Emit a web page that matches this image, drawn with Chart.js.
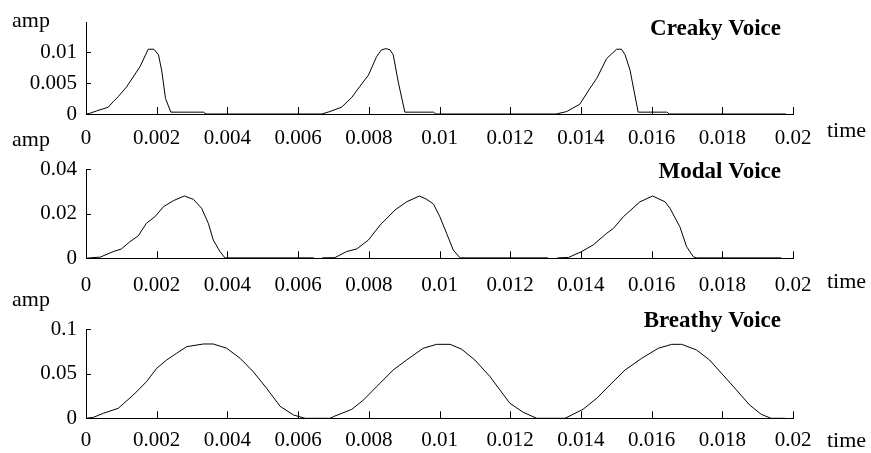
<!DOCTYPE html>
<html><head><meta charset="utf-8">
<script src="https://cdn.jsdelivr.net/npm/chart.js@4"></script>
<style>
html,body{margin:0;padding:0;background:#fff;width:871px;height:453px;overflow:hidden;}
canvas{position:absolute;left:0;display:block;}
</style></head><body>
<canvas id="c1" width="871" height="152" style="top:0px;width:871px;height:152px"></canvas>
<canvas id="c2" width="871" height="170" style="top:128px;width:871px;height:170px"></canvas>
<canvas id="c3" width="871" height="165" style="top:288px;width:871px;height:165px"></canvas>
<script>
// ---- data ----
const xTickValues = [0,0.002,0.004,0.006,0.008,0.01,0.012,0.014,0.016,0.018,0.02];
const xTickLabels = ['0','0.002','0.004','0.006','0.008','0.01','0.012','0.014','0.016','0.018','0.02'];

const creakyTicks = [0,0.005,0.01];
const creakyTickLabels = ['0','0.005','0.01'];
const modalTicks = [0,0.02,0.04];
const modalTickLabels = ['0','0.02','0.04'];
const breathyTicks = [0,0.05,0.1];
const breathyTickLabels = ['0','0.05','0.1'];

const creakyTime = [0,0.0001,0.0003,0.00063,0.00077,0.00091,0.00115,0.00153,0.00176,0.00192,0.00205,0.00214,0.00225,0.0024,0.00332,0.0034,
  0.00667,0.0069,0.00723,0.00752,0.00775,0.00799,0.00822,0.00836,0.00849,0.0086,0.00869,0.00884,0.00902,0.00983,0.0099,
  0.0133,0.0136,0.01397,0.01426,0.01445,0.01473,0.01501,0.01515,0.01525,0.01539,0.01562,0.01643,0.0165,0.0198];
const creakyAmp = [0,0.0001,0.0005,0.0011,0.002,0.0028,0.0044,0.0077,0.0105,0.0105,0.0096,0.0071,0.0025,0.0003,0.0003,0,
  0,0.0004,0.0011,0.0027,0.0045,0.0063,0.0093,0.0104,0.0106,0.0104,0.0096,0.005,0.0003,0.0003,0,
  0,0.0004,0.0016,0.0042,0.0058,0.009,0.0105,0.0105,0.0096,0.0071,0.0003,0.0003,0,0];

const modalTime = [0,0.00016,0.0004,0.00077,0.001,0.00124,0.00148,0.00171,0.00195,0.00219,0.00247,0.00278,0.00304,0.00327,0.00346,0.0036,0.00379,0.00393,
  0.00643,0.00655,0.0067,0.00704,0.00737,0.00766,0.00799,0.00832,0.00874,0.00907,0.00943,0.00964,0.00983,0.01001,0.0102,0.01039,0.01058,
  0.01305,0.01317,0.01336,0.01365,0.01402,0.01435,0.01473,0.01492,0.0152,0.01567,0.01603,0.01638,0.01652,0.0168,0.01699,0.01718,0.01727,
  0.01965,0.01977];
const modalAmp = [0,0.0003,0.0005,0.003,0.0042,0.0074,0.0101,0.0157,0.0186,0.0231,0.0258,0.0279,0.0264,0.0224,0.0157,0.0082,0.003,0.0002,
  0.0002,-0.0008,0.0002,0.0003,0.003,0.0042,0.0082,0.0149,0.0216,0.0253,0.0279,0.0264,0.0243,0.0186,0.0112,0.0037,0.0002,
  0.0002,-0.0008,0.0002,0.0004,0.003,0.006,0.0112,0.0134,0.0186,0.0253,0.0279,0.0253,0.0224,0.0141,0.0052,0.0007,0.0002,
  0.0002,-0.0008];

const breathyTime = [0,0.00021,0.00049,0.00091,0.00134,0.00171,0.002,0.00228,0.00256,0.00285,0.00332,0.0036,0.00398,0.00436,0.00473,0.00511,0.00549,0.00587,0.0062,
  0.0069,0.007,0.00752,0.00785,0.00822,0.00869,0.00907,0.00954,0.00992,0.0103,0.01063,0.011,0.01143,0.01171,0.01199,0.01237,0.01275,
  0.01355,0.01378,0.01406,0.01445,0.01482,0.01525,0.01572,0.01619,0.01657,0.01685,0.01727,0.01764,0.01802,0.0184,0.01877,0.0191,0.01938,0.01977];
const breathyAmp = [0,0.0011,0.0056,0.0112,0.0262,0.0411,0.0562,0.0655,0.073,0.0805,0.0835,0.0835,0.0787,0.0674,0.0524,0.0337,0.0135,0.0037,0,
  0,0.0019,0.0101,0.0206,0.0355,0.0543,0.0655,0.0787,0.0831,0.0831,0.0775,0.0655,0.0468,0.0318,0.0169,0.0067,0,
  0,0.0045,0.0101,0.0225,0.0374,0.0543,0.0674,0.0787,0.0831,0.0831,0.0768,0.0655,0.0487,0.0318,0.015,0.0045,0,0];

// ---- drawing ----
const SERIF = "'Liberation Serif','Times New Roman',serif";

const panelDecor = {
  id: 'panelDecor',
  afterDraw(chart, args, o) {
    const ctx = chart.ctx;
    const xs = chart.scales.x, ys = chart.scales.y;
    ctx.save();
    ctx.strokeStyle = '#000';
    ctx.lineWidth = 1;
    ctx.beginPath();
    xs.ticks.forEach(t => {
      if (t.value === 0) return;
      const px = Math.round(xs.getPixelForValue(t.value)) + 0.5;
      ctx.moveTo(px, ys.bottom);
      ctx.lineTo(px, ys.bottom - o.xTickLen);
    });
    ys.ticks.forEach(t => {
      if (t.value === 0) return;
      const py = Math.round(ys.getPixelForValue(t.value)) + 0.5;
      ctx.moveTo(xs.left, py);
      ctx.lineTo(xs.left + o.yTickLen, py);
    });
    ctx.stroke();
    ctx.fillStyle = '#000';
    ctx.textBaseline = 'alphabetic';
    ctx.font = '22px ' + SERIF;
    ctx.textAlign = 'left';
    ctx.fillText(o.yName, o.yNameX, o.yNameY);
    ctx.fillText(o.xName, o.xNameX, o.xNameY);
    ctx.font = 'bold 23px ' + SERIF;
    ctx.textAlign = 'right';
    ctx.fillText(o.title, o.titleX, o.titleY);
    ctx.restore();
  }
};

function makePanel(id, time, amp, yMax, yTicks, yLabels, canvasH, areaTop, areaBottom, xPad, decor) {
  const ctx = document.getElementById(id);
  return new Chart(ctx, {
    type: 'line',
    data: {
      datasets: [{
        data: time.map((t, i) => ({x: t, y: amp[i]})),
        borderColor: '#000',
        borderWidth: 1,
        pointRadius: 0,
        tension: 0,
        fill: false
      }]
    },
    options: {
      responsive: false,
      animation: false,
      events: [],
      layout: {padding: {left: 0, right: 78, top: areaTop, bottom: 0}},
      plugins: {legend: {display: false}, tooltip: {enabled: false}, title: {display: false}, panelDecor: decor},
      scales: {
        x: {
          type: 'linear', min: 0, max: 0.02,
          afterBuildTicks: s => { s.ticks = xTickValues.map(v => ({value: v})); },
          afterFit: s => { s.height = canvasH - areaBottom; },
          grid: {display: false, drawTicks: false},
          border: {display: true, color: '#000', width: 1},
          ticks: {
            autoSkip: false, maxRotation: 0, padding: xPad, color: '#000',
            font: {family: SERIF, size: 21},
            callback: (v, i) => xTickLabels[i]
          }
        },
        y: {
          type: 'linear', min: 0, max: yMax,
          afterBuildTicks: s => { s.ticks = yTicks.map(v => ({value: v})); },
          afterFit: s => { s.width = 86; },
          grid: {display: false, drawTicks: false},
          border: {display: true, color: '#000', width: 1},
          ticks: {
            padding: 9, color: '#000',
            font: {family: SERIF, size: 21},
            callback: (v, i) => yLabels[i]
          }
        }
      }
    },
    plugins: [panelDecor]
  });
}

makePanel('c1', creakyTime, creakyAmp, 0.0148, creakyTicks, creakyTickLabels, 152, 22.7, 114, 11.5,
  {title: 'Creaky Voice', titleX: 781, titleY: 35, yName: 'amp', yNameX: 12, yNameY: 27, xName: 'time', xNameX: 827, xNameY: 137, xTickLen: 7, yTickLen: 5});
makePanel('c2', modalTime, modalAmp, 0.04, modalTicks, modalTickLabels, 170, 41, 130.3, 15,
  {title: 'Modal Voice', titleX: 781, titleY: 50, yName: 'amp', yNameX: 12, yNameY: 18, xName: 'time', xNameX: 827, xNameY: 160, xTickLen: 7, yTickLen: 5});
makePanel('c3', breathyTime, breathyAmp, 0.1, breathyTicks, breathyTickLabels, 165, 41.3, 130.3, 9.5,
  {title: 'Breathy Voice', titleX: 781, titleY: 39, yName: 'amp', yNameX: 12, yNameY: 18, xName: 'time', xNameX: 827, xNameY: 158.7, xTickLen: 7, yTickLen: 5});
</script>
</body></html>
